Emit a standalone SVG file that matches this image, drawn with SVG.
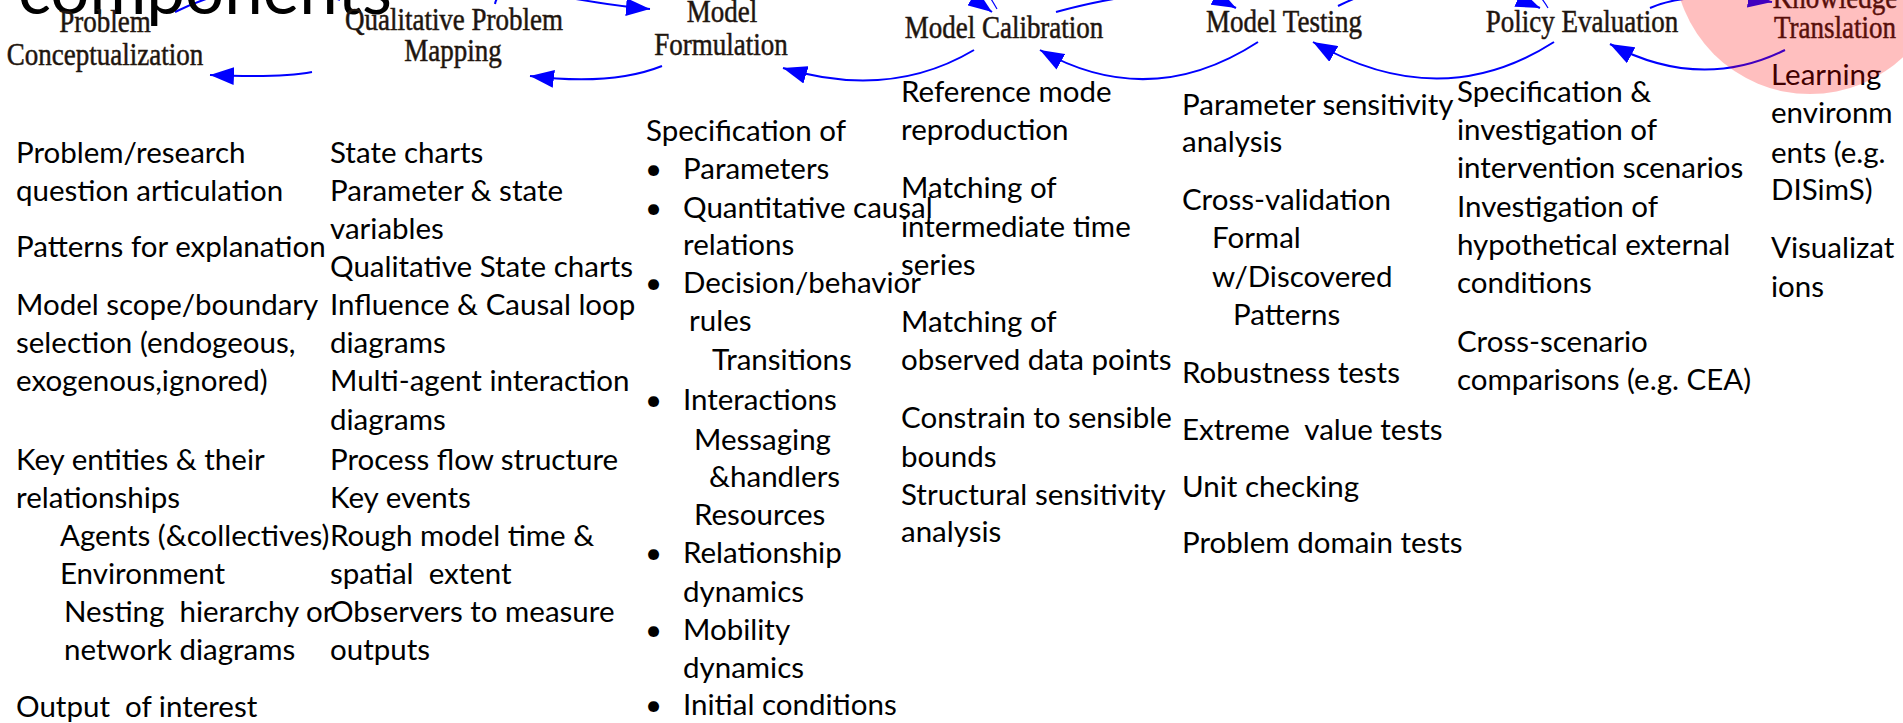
<svg xmlns="http://www.w3.org/2000/svg" width="1903" height="723" viewBox="0 0 1903 723">
<style>
.t{font-family:Lato,"Liberation Sans",sans-serif;font-size:29.5px;fill:#000;white-space:pre}
.lbl{font-family:"Liberation Serif","Times New Roman",serif;font-size:27px;fill:#1c1410;stroke:#2a1c10;stroke-width:0.45;text-anchor:middle}
.arc{fill:none;stroke:#0000ff;stroke-width:2}
.thin{fill:none;stroke:#0000ff;stroke-width:1.2}
.big{font-family:Lato,"Liberation Sans",sans-serif;font-size:69px;fill:#000}
</style>
<defs>
<marker id="ah" markerUnits="userSpaceOnUse" markerWidth="26" markerHeight="18" refX="24" refY="9" orient="auto">
<path d="M0,0 L24,9 L0,18 z" fill="#0000ff"/>
</marker>
</defs>
<rect width="1903" height="723" fill="#fff"/>
<g id="connectors">
<path class="arc" d="M175 12 Q260 -30 340 0" marker-end="url(#ah)"/>
<path class="arc" d="M495 4 C500 -25 560 2 650 9" marker-end="url(#ah)"/>
<path class="arc" d="M760 -10 Q920 -40 992 12" marker-end="url(#ah)"/>
<path class="thin" d="M988 -6 Q993 2 997 9"/>
<path class="arc" d="M1056 12 Q1180 -22 1236 8" marker-end="url(#ah)"/>
<path class="arc" d="M1338 6 Q1430 -40 1540 8" marker-end="url(#ah)"/>
<path class="thin" d="M1538 -6 Q1544 1 1548 8"/>
<path class="arc" d="M1650 8 Q1690 -10 1772 2" marker-end="url(#ah)"/>
<path class="arc" d="M312 72 Q280 78 210 75" marker-end="url(#ah)"/>
<path class="arc" d="M662 66 Q612 86 530 76" marker-end="url(#ah)"/>
<path class="arc" d="M974 50 Q890 100 783 68" marker-end="url(#ah)"/>
<path class="arc" d="M1258 42 Q1150 112 1040 50" marker-end="url(#ah)"/>
<path class="arc" d="M1554 42 Q1440 115 1313 42" marker-end="url(#ah)"/>
<path class="arc" d="M1785 50 Q1700 92 1610 44" marker-end="url(#ah)"/>
</g>
<g id="title">
<text class="big" x="18" y="14" textLength="374" lengthAdjust="spacingAndGlyphs">components</text>
</g>
<g id="node-problem-conceptualization">
<text class="lbl" transform="translate(105,32) scale(1,1.2)">Problem</text>
<text class="lbl" transform="translate(105,65) scale(1,1.2)">Conceptualization</text>
</g>
<g id="node-qualitative-problem-mapping">
<text class="lbl" transform="translate(454,30) scale(1,1.2)">Qualitative Problem</text>
<text class="lbl" transform="translate(453,61) scale(1,1.2)">Mapping</text>
</g>
<g id="node-model-formulation">
<text class="lbl" transform="translate(722,22) scale(1,1.2)">Model</text>
<text class="lbl" transform="translate(721,55) scale(1,1.2)">Formulation</text>
</g>
<g id="node-model-calibration">
<text class="lbl" transform="translate(1004,38) scale(1,1.2)">Model Calibration</text>
</g>
<g id="node-model-testing">
<text class="lbl" transform="translate(1284,32) scale(1,1.2)">Model Testing</text>
</g>
<g id="node-policy-evaluation">
<text class="lbl" transform="translate(1582,32) scale(1,1.2)">Policy Evaluation</text>
</g>
<g id="node-knowledge-translation">
<text class="lbl" transform="translate(1835,8) scale(1,1.2)">Knowledge</text>
<text class="lbl" transform="translate(1835,38) scale(1,1.2)">Translation</text>
</g>
<g id="col-problem-conceptualization">
<text class="t" x="16" y="163">Problem/research</text>
<text class="t" x="16" y="201">question articulation</text>
<text class="t" x="16" y="257">Patterns for explanation</text>
<text class="t" x="16" y="315">Model scope/boundary</text>
<text class="t" x="16" y="353">selection (endogeous,</text>
<text class="t" x="16" y="391">exogenous,ignored)</text>
<text class="t" x="16" y="470">Key entities &amp; their</text>
<text class="t" x="16" y="508">relationships</text>
<text class="t" x="60" y="546">Agents (&amp;collectives)</text>
<text class="t" x="60" y="584">Environment</text>
<text class="t" x="64" y="622">Nesting  hierarchy or</text>
<text class="t" x="64" y="660">network diagrams</text>
<text class="t" x="16" y="717">Output  of interest</text>
</g>
<g id="col-qualitative-problem-mapping">
<text class="t" x="330" y="163">State charts</text>
<text class="t" x="330" y="201">Parameter &amp; state</text>
<text class="t" x="330" y="239">variables</text>
<text class="t" x="330" y="277">Qualitative State charts</text>
<text class="t" x="330" y="315">Influence &amp; Causal loop</text>
<text class="t" x="330" y="353">diagrams</text>
<text class="t" x="330" y="391">Multi-agent interaction</text>
<text class="t" x="330" y="430">diagrams</text>
<text class="t" x="330" y="470">Process flow structure</text>
<text class="t" x="330" y="508">Key events</text>
<text class="t" x="330" y="546">Rough model time &amp;</text>
<text class="t" x="330" y="584">spatial  extent</text>
<text class="t" x="330" y="622">Observers to measure</text>
<text class="t" x="330" y="660">outputs</text>
</g>
<g id="col-model-formulation">
<text class="t" x="646" y="141">Specification of</text>
<text class="t" x="645" y="179">•</text>
<text class="t" x="683" y="179">Parameters</text>
<text class="t" x="645" y="218">•</text>
<text class="t" x="683" y="218">Quantitative causal</text>
<text class="t" x="683" y="255">relations</text>
<text class="t" x="645" y="293">•</text>
<text class="t" x="683" y="293">Decision/behavior</text>
<text class="t" x="689" y="331">rules</text>
<text class="t" x="712" y="370">Transitions</text>
<text class="t" x="645" y="410">•</text>
<text class="t" x="683" y="410">Interactions</text>
<text class="t" x="694" y="450">Messaging</text>
<text class="t" x="709" y="487">&amp;handlers</text>
<text class="t" x="694" y="525">Resources</text>
<text class="t" x="645" y="563">•</text>
<text class="t" x="683" y="563">Relationship</text>
<text class="t" x="683" y="602">dynamics</text>
<text class="t" x="645" y="640">•</text>
<text class="t" x="683" y="640">Mobility</text>
<text class="t" x="683" y="678">dynamics</text>
<text class="t" x="645" y="715">•</text>
<text class="t" x="683" y="715">Initial conditions</text>
</g>
<g id="col-model-calibration">
<text class="t" x="901" y="102">Reference mode</text>
<text class="t" x="901" y="140">reproduction</text>
<text class="t" x="901" y="198">Matching of</text>
<text class="t" x="901" y="237">intermediate time</text>
<text class="t" x="901" y="275">series</text>
<text class="t" x="901" y="332">Matching of</text>
<text class="t" x="901" y="370">observed data points</text>
<text class="t" x="901" y="428">Constrain to sensible</text>
<text class="t" x="901" y="467">bounds</text>
<text class="t" x="901" y="505">Structural sensitivity</text>
<text class="t" x="901" y="542">analysis</text>
</g>
<g id="col-model-testing">
<text class="t" x="1182" y="115">Parameter sensitivity</text>
<text class="t" x="1182" y="152">analysis</text>
<text class="t" x="1182" y="210">Cross-validation</text>
<text class="t" x="1212" y="248">Formal</text>
<text class="t" x="1212" y="287">w/Discovered</text>
<text class="t" x="1233" y="325">Patterns</text>
<text class="t" x="1182" y="383">Robustness tests</text>
<text class="t" x="1182" y="440">Extreme  value tests</text>
<text class="t" x="1182" y="497">Unit checking</text>
<text class="t" x="1182" y="553">Problem domain tests</text>
</g>
<g id="col-policy-evaluation">
<text class="t" x="1457" y="102">Specification &amp;</text>
<text class="t" x="1457" y="140">investigation of</text>
<text class="t" x="1457" y="178">intervention scenarios</text>
<text class="t" x="1457" y="217">Investigation of</text>
<text class="t" x="1457" y="255">hypothetical external</text>
<text class="t" x="1457" y="293">conditions</text>
<text class="t" x="1457" y="352">Cross-scenario</text>
<text class="t" x="1457" y="390">comparisons (e.g. CEA)</text>
</g>
<g id="col-knowledge-translation">
<text class="t" x="1771" y="85">Learning</text>
<text class="t" x="1771" y="123">environm</text>
<text class="t" x="1771" y="163">ents (e.g.</text>
<text class="t" x="1771" y="200">DISimS)</text>
<text class="t" x="1771" y="258">Visualizat</text>
<text class="t" x="1771" y="297">ions</text>
</g>
<circle id="highlight" cx="1810" cy="-42" r="136" fill="#ff0000" fill-opacity="0.25"/>
</svg>
